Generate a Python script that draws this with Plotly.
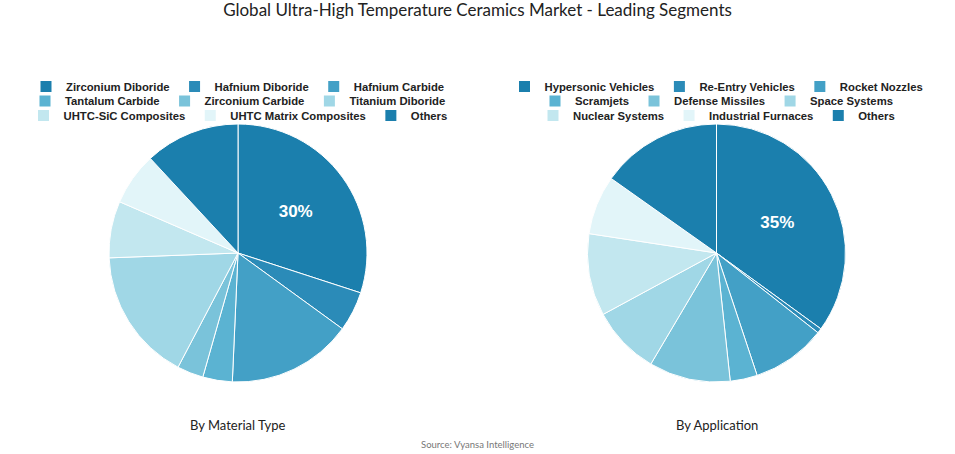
import plotly.graph_objects as go

title_text = "Global Ultra-High Temperature Ceramics Market - Leading Segments"
source_text = "Source: Vyansa Intelligence"

material_title = "By Material Type"
material_labels = ["Zirconium Diboride", "Hafnium Diboride", "Hafnium Carbide", "Tantalum Carbide",
                   "Zirconium Carbide", "Titanium Diboride", "UHTC-SiC Composites",
                   "UHTC Matrix Composites", "Others"]
material_values = [30, 5, 15.7, 3.7, 3.3, 16.7, 7.1, 6.6, 11.9]

application_title = "By Application"
application_labels = ["Hypersonic Vehicles", "Re-Entry Vehicles", "Rocket Nozzles", "Scramjets",
                      "Defense Missiles", "Space Systems", "Nuclear Systems",
                      "Industrial Furnaces", "Others"]
application_values = [35, 0.6, 9.3, 3.4, 10.2, 8.6, 10.3, 7.4, 15.2]

palette = ["#1b7fad", "#2b8bb8", "#43a0c6", "#5bb3d2", "#7ac3da",
           "#a0d7e6", "#c2e7ef", "#e2f5f9", "#1b7fad"]

W, H = 955, 454
legend_font = dict(family="Liberation Sans, Arial, sans-serif", size=11.3, color="#222222", weight="bold")
text_font = "Lato, 'Noto Sans', sans-serif"

fig = go.Figure()

panels = [
    (material_title, material_labels, material_values, 238),
    (application_title, application_labels, application_values, 716.5),
]
center_y = 253
radius = 129
row_y = [86.5, 101, 115.5]
per_row = 3

legend_layouts = {}
legend_idx = 0
for title, labels, values, cx in panels:
    xc = cx / W
    yc = 1 - center_y / H
    fig.add_trace(go.Pie(
        labels=labels, values=values, sort=False, direction="clockwise", rotation=0,
        marker=dict(colors=palette, line=dict(color="white", width=1)),
        texttemplate=["%{percent:.0%}"] + [""] * (len(values) - 1),
        textposition="inside", insidetextorientation="horizontal",
        insidetextfont=dict(family="Liberation Sans, Arial, sans-serif", size=17, color="white", weight="bold"),
        domain=dict(x=[xc - radius / W, xc + radius / W], y=[yc - radius / H, yc + radius / H]),
        showlegend=False, hoverinfo="label+percent",
    ))
    for r in range(3):
        legend_idx += 1
        lname = "legend" if legend_idx == 1 else f"legend{legend_idx}"
        for i in range(r * per_row, min((r + 1) * per_row, len(labels))):
            fig.add_trace(go.Scatter(
                x=[None], y=[None], mode="markers", name=labels[i],
                marker=dict(symbol="square", size=11, color=palette[i]),
                legend=lname, showlegend=True, hoverinfo="skip",
            ))
        legend_layouts[lname] = dict(
            orientation="h", x=xc, xanchor="center", y=1 - row_y[r] / H, yanchor="middle",
            font=legend_font, bgcolor="rgba(0,0,0,0)", itemclick=False, itemdoubleclick=False,
            tracegroupgap=0,
        )
    fig.add_annotation(text=title, x=xc, y=1 - 425 / H, xref="paper", yref="paper",
                       showarrow=False, xanchor="center", yanchor="middle",
                       font=dict(family=text_font, size=13, color="#222222"))

fig.add_annotation(text=source_text, x=0.5, y=1 - 444 / H, xref="paper", yref="paper",
                   showarrow=False, xanchor="center", yanchor="middle",
                   font=dict(family=text_font, size=9.5, color="#777777"))

fig.update_layout(
    width=W, height=H,
    margin=dict(l=0, r=0, t=0, b=0),
    paper_bgcolor="white", plot_bgcolor="white",
    title=dict(text=title_text, x=0.5, xanchor="center", y=1 - 10 / H, yanchor="middle",
               yref="container", font=dict(family=text_font, size=17, color="#222222")),
    xaxis=dict(visible=False), yaxis=dict(visible=False),
    **legend_layouts,
)

fig.write_html("out.html")
